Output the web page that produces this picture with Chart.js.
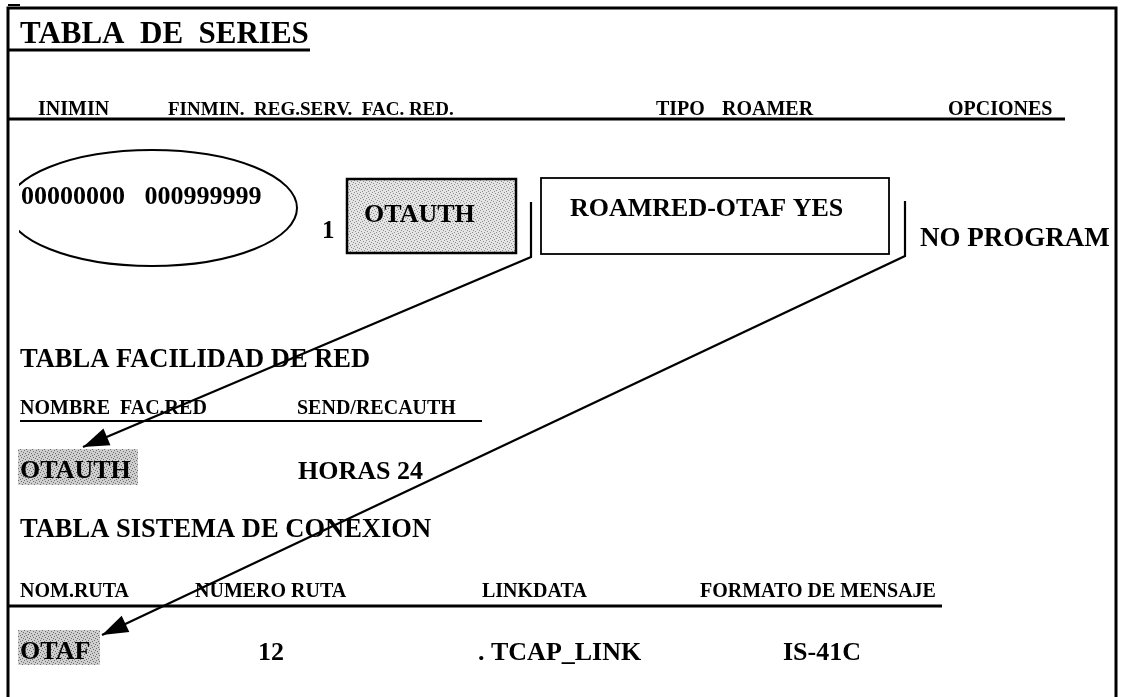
<!DOCTYPE html>
<html>
<head>
<meta charset="utf-8">
<script src="https://cdn.jsdelivr.net/npm/chart.js@4.4.1/dist/chart.umd.min.js"></script>
<style>
  html, body { margin: 0; padding: 0; background: #fff; }
  #wrap { width: 1123px; height: 697px; }
</style>
</head>
<body>
<div id="wrap"><canvas id="diagram"></canvas></div>
<script>
// Sheet units: one unit per pixel of the scanned page, y grows downwards

// Section titles
const titleText = ['TABLA  DE  SERIES', 'TABLA FACILIDAD DE RED', 'TABLA SISTEMA DE CONEXION'];
const titleX = [20, 20, 20];
const titleY = [43, 367, 537];

// Column headers
const headerText = ['INIMIN', 'FINMIN.  REG.SERV.  FAC. RED.', 'TIPO', 'ROAMER', 'OPCIONES',
                    'NOMBRE  FAC.RED', 'SEND/RECAUTH',
                    'NOM.RUTA', 'NUMERO RUTA', 'LINKDATA', 'FORMATO DE MENSAJE'];
const headerX = [38, 168, 656, 722, 948, 20, 297, 20, 195, 482, 700];
const headerY = [115, 115, 115, 115, 115, 414, 414, 597, 597, 597, 597];

// Table values
const valueText = ['00000000   000999999', '1', 'OTAUTH', 'ROAMRED-OTAF YES', 'NO PROGRAM',
                   'OTAUTH', 'HORAS 24', 'OTAF', '12', '. TCAP_LINK', 'IS-41C'];
const valueX = [21, 322, 364, 570, 920, 20, 298, 20, 258, 478, 783];
const valueY = [204, 238, 222, 216, 246, 478, 479, 659, 660, 660, 660];

// Horizontal rules
const ruleY = [50, 119, 421, 606];
const ruleFrom = [8, 8, 20, 8];
const ruleTo = [310, 1065, 482, 942];

// Page frame (left, top, right edges)
const frameX = [8, 8, 1116, 1116];
const frameY = [697, 8, 8, 697];

// Arrows: OTAUTH -> facilidad de red, ROAMRED-OTAF -> sistema de conexion
const arrowAX = [531, 531, 83];
const arrowAY = [202, 257, 447];
const arrowBX = [905, 905, 102];
const arrowBY = [201, 256, 635];

// Boxes round OTAUTH and ROAMRED-OTAF
const boxLeft = [347, 541];
const boxTop = [179, 178];
const boxRight = [516, 889];
const boxBottom = [253, 254];

// Shaded backgrounds of the lower OTAUTH and OTAF entries
const shadeLeft = [18, 18];
const shadeTop = [449, 630];
const shadeRight = [138, 100];
const shadeBottom = [485, 665];

// Ellipse round the MIN range
const ellipseCx = 152, ellipseCy = 208, ellipseRx = 145, ellipseRy = 58, ellipseClip = 19;

const serif = '"Liberation Serif", "DejaVu Serif", serif';

function pts(xs, ys) {
    return xs.map((x, i) => ({ x: x, y: ys[i] }));
}

function stipple(ctx, dark) {
    const c = document.createElement('canvas');
    c.width = 6; c.height = 6;
    const p = c.getContext('2d');
    p.fillStyle = dark ? '#cfcfcf' : '#e4e4e4';
    p.fillRect(0, 0, 6, 6);
    p.fillStyle = dark ? '#6e6e6e' : '#8f8f8f';
    [[0, 0], [3, 1], [1, 3], [4, 4], [5, 2], [2, 5]].forEach(([a, b]) => p.fillRect(a, b, 1, 1));
    return ctx.createPattern(c, 'repeat');
}

const datasets = [];
datasets.push({ data: pts(frameX, frameY), borderWidth: 3 });
ruleY.forEach((y, i) => {
    datasets.push({ data: [{ x: ruleFrom[i], y: y }, { x: ruleTo[i], y: y }], borderWidth: i === 2 ? 2 : 3 });
});
datasets.push({ data: [{ x: 8, y: 5 }, { x: 20, y: 5 }], borderWidth: 2 });
datasets.push({ data: pts(arrowAX, arrowAY), borderWidth: 2.2 });
datasets.push({ data: pts(arrowBX, arrowBY), borderWidth: 2.2 });
datasets.forEach(d => {
    d.showLine = true;
    d.borderColor = '#000';
    d.pointRadius = 0;
    d.fill = false;
    d.tension = 0;
});

const sheetPlugin = {
    id: 'sheet',
    beforeDatasetsDraw(chart) {
        const { ctx, scales: { x, y } } = chart;
        const px = v => x.getPixelForValue(v);
        const py = v => y.getPixelForValue(v);
        ctx.save();

        // shaded backgrounds
        ctx.fillStyle = stipple(ctx, true);
        shadeLeft.forEach((l, i) => {
            ctx.fillRect(px(l), py(shadeTop[i]), px(shadeRight[i]) - px(l), py(shadeBottom[i]) - py(shadeTop[i]));
        });
        // OTAUTH box is shaded, ROAMRED box is plain
        ctx.fillStyle = stipple(ctx, false);
        ctx.fillRect(px(boxLeft[0]), py(boxTop[0]), px(boxRight[0]) - px(boxLeft[0]), py(boxBottom[0]) - py(boxTop[0]));

        // box outlines
        ctx.strokeStyle = '#000';
        boxLeft.forEach((l, i) => {
            ctx.lineWidth = i === 0 ? 2.5 : 1.8;
            ctx.strokeRect(px(l), py(boxTop[i]), px(boxRight[i]) - px(l), py(boxBottom[i]) - py(boxTop[i]));
        });

        // ellipse, cut off on its left side
        ctx.save();
        ctx.beginPath();
        ctx.rect(px(ellipseClip), 0, chart.width, chart.height);
        ctx.clip();
        ctx.beginPath();
        ctx.ellipse(px(ellipseCx), py(ellipseCy), px(ellipseCx + ellipseRx) - px(ellipseCx),
            py(ellipseCy + ellipseRy) - py(ellipseCy), 0, 0, Math.PI * 2);
        ctx.lineWidth = 2;
        ctx.stroke();
        ctx.restore();

        // texts
        ctx.fillStyle = '#000';
        ctx.textBaseline = 'alphabetic';
        ctx.textAlign = 'left';
        titleText.forEach((t, i) => {
            ctx.font = 'bold ' + (i === 0 ? 31 : 26.5) + 'px ' + serif;
            ctx.fillText(t, px(titleX[i]), py(titleY[i]));
        });
        headerText.forEach((t, i) => {
            ctx.font = 'bold ' + (i === 1 ? 19 : 20) + 'px ' + serif;
            ctx.fillText(t, px(headerX[i]), py(headerY[i]));
        });
        valueText.forEach((t, i) => {
            ctx.font = 'bold ' + (i === 1 ? 25 : i === 4 ? 27 : 26) + 'px ' + serif;
            ctx.fillText(t, px(valueX[i]), py(valueY[i]));
        });
        ctx.restore();
    },
    afterDatasetsDraw(chart) {
        const { ctx, scales: { x, y } } = chart;
        ctx.save();
        ctx.fillStyle = '#000';
        [[arrowAX, arrowAY], [arrowBX, arrowBY]].forEach(([xs, ys]) => {
            const n = xs.length;
            const tx = x.getPixelForValue(xs[n - 1]), ty = y.getPixelForValue(ys[n - 1]);
            const fx = x.getPixelForValue(xs[n - 2]), fy = y.getPixelForValue(ys[n - 2]);
            const a = Math.atan2(ty - fy, tx - fx);
            const len = 26, half = 9;
            const bx = tx - len * Math.cos(a), by = ty - len * Math.sin(a);
            ctx.beginPath();
            ctx.moveTo(tx, ty);
            ctx.lineTo(bx + half * Math.sin(a), by - half * Math.cos(a));
            ctx.lineTo(bx - half * Math.sin(a), by + half * Math.cos(a));
            ctx.closePath();
            ctx.fill();
        });
        ctx.restore();
    }
};

new Chart(document.getElementById('diagram'), {
    type: 'scatter',
    data: { datasets: datasets },
    options: {
        responsive: true,
        maintainAspectRatio: false,
        animation: false,
        events: [],
        layout: { padding: 0 },
        plugins: {
            legend: { display: false },
            tooltip: { enabled: false }
        },
        scales: {
            x: { type: 'linear', min: 0, max: 1123, display: false },
            y: { type: 'linear', min: 0, max: 697, reverse: true, display: false }
        }
    },
    plugins: [sheetPlugin]
});
</script>
</body>
</html>
